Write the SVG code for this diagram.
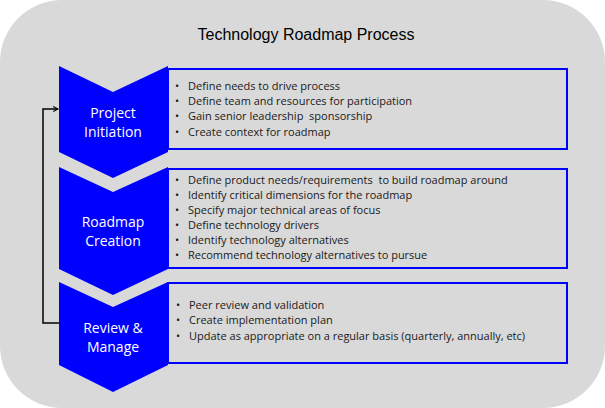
<svg xmlns="http://www.w3.org/2000/svg" width="605" height="408" viewBox="0 0 605 408">
<defs>
<style>
.bg{fill:#d9d9d9}
.chev{fill:#0000ff}
.box{fill:#d9d9d9;stroke:#0000ff;stroke-width:2}
.title{font-family:"Liberation Sans",Arial,sans-serif;font-size:16px;fill:#000;text-anchor:middle}
.lab{font-family:"Open Sans","Liberation Sans",sans-serif;font-size:14px;fill:#fff;text-anchor:middle}
.bul{font-family:"Open Sans","Liberation Sans",sans-serif;font-size:11px;fill:#1a1a1a;white-space:pre}
.conn{fill:none;stroke:#000;stroke-width:1.5}
</style>
<marker id="arr" viewBox="0 0 10 10" refX="9" refY="5" markerWidth="6" markerHeight="6" orient="auto" markerUnits="userSpaceOnUse">
<path d="M1,1 L9,5 L1,9" fill="none" stroke="#000" stroke-width="1.8"/>
</marker>
</defs>
<rect x="0" y="0" width="605" height="408" fill="#fff"/>
<rect class="bg" x="0" y="0" width="605" height="408" rx="62" ry="62"/>
<text class="title" x="306" y="40">Technology Roadmap Process</text>

<g id="connectors">
<path class="conn" d="M60,323 H43 V109 H58" marker-end="url(#arr)"/>
</g>

<g id="project-initiation">
<rect class="box" x="168" y="69" width="399" height="80"/>
<path class="chev" d="M59,66 L113,92 L168,66 L168,152 L113,178 L59,152 Z"/>
<text class="lab" x="113" y="118">Project</text>
<text class="lab" x="113" y="137">Initiation</text>
<g class="bul">
<text x="175" y="90">•</text><text x="188" y="90">Define needs to drive process</text>
<text x="175" y="105">•</text><text x="188" y="105">Define team and resources for participation</text>
<text x="175" y="120">•</text><text x="188" y="120" xml:space="preserve">Gain senior leadership  sponsorship</text>
<text x="175" y="136">•</text><text x="188" y="136">Create context for roadmap</text>
</g>
</g>

<g id="roadmap-creation">
<rect class="box" x="168" y="169" width="399" height="99"/>
<path class="chev" d="M59,167 L113,192 L168,167 L168,269 L113,295 L59,269 Z"/>
<text class="lab" x="113" y="227">Roadmap</text>
<text class="lab" x="113" y="246">Creation</text>
<g class="bul">
<text x="175" y="184">•</text><text x="188" y="184" xml:space="preserve">Define product needs/requirements  to build roadmap around</text>
<text x="175" y="199">•</text><text x="188" y="199">Identify critical dimensions for the roadmap</text>
<text x="175" y="214">•</text><text x="188" y="214">Specify major technical areas of focus</text>
<text x="175" y="229">•</text><text x="188" y="229">Define technology drivers</text>
<text x="175" y="244">•</text><text x="188" y="244">Identify technology alternatives</text>
<text x="175" y="259">•</text><text x="188" y="259">Recommend technology alternatives to pursue</text>
</g>
</g>

<g id="review-manage">
<rect class="box" x="168" y="283" width="399" height="80"/>
<path class="chev" d="M59,282 L113,307 L168,282 L168,365 L113,392 L59,365 Z"/>
<text class="lab" x="113" y="333">Review &amp;</text>
<text class="lab" x="113" y="352">Manage</text>
<g class="bul">
<text x="176" y="309">•</text><text x="189" y="309">Peer review and validation</text>
<text x="176" y="324">•</text><text x="189" y="324">Create implementation plan</text>
<text x="176" y="340">•</text><text x="189" y="340">Update as appropriate on a regular basis (quarterly, annually, etc)</text>
</g>
</g>
</svg>
